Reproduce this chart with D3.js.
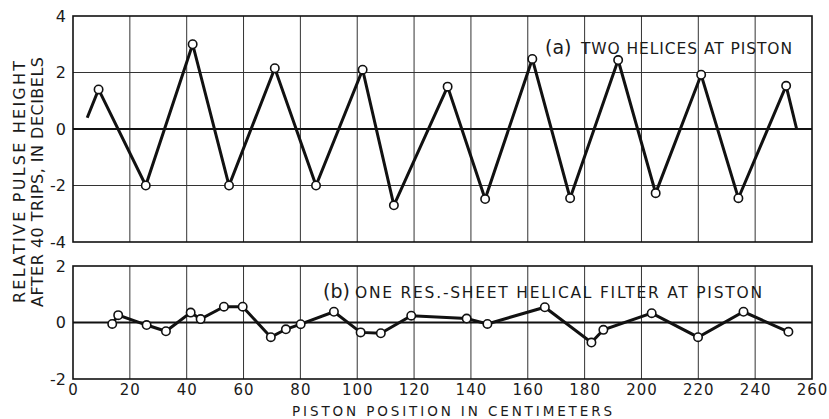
<!DOCTYPE html>
<html>
<head>
<meta charset="utf-8">
<script src="https://cdn.jsdelivr.net/npm/d3@7"></script>
<style>
    body { margin: 0; background: #fff; }
    svg text { font-family: "DejaVu Sans", sans-serif; fill: #1a1a1a; }
</style>
</head>
<body>
<div id="viz"></div>
<script>
// panel (a): two helices at piston
const posA = [5, 9, 25.6, 42.1, 54.9, 71, 85.5, 101.9, 112.9, 131.8, 145, 161.6, 174.9, 191.8, 205, 221, 234.1, 250.9, 254.6];
const dbA = [0.4, 1.4, -2, 3, -2, 2.15, -2, 2.1, -2.7, 1.5, -2.48, 2.48, -2.45, 2.44, -2.27, 1.92, -2.45, 1.53, 0];

// panel (b): one res.-sheet helical filter at piston
const posB = [13.8, 15.9, 25.9, 32.7, 41.4, 44.9, 53.1, 59.7, 69.6, 74.9, 80.1, 91.8, 101.2, 108.3, 119, 138.5, 145.8, 166, 182.4, 186.6, 203.6, 219.9, 235.9, 251.7];
const dbB = [-0.05, 0.26, -0.09, -0.31, 0.35, 0.12, 0.56, 0.56, -0.52, -0.24, -0.06, 0.38, -0.35, -0.38, 0.24, 0.14, -0.05, 0.54, -0.71, -0.26, 0.33, -0.52, 0.38, -0.33];

const xTicks = d3.range(0, 261, 20);
const yTicksA = [-4, -2, 0, 2, 4];
const yTicksB = [-2, 0, 2];

const width = 829;
const height = 419;
const svg = d3.select("#viz")
    .append("svg")
    .attr("width", width)
    .attr("height", height);

const left = 73, right = 812;
const xScale = d3.scaleLinear().domain([0, 260]).range([left, right]);
const yA = d3.scaleLinear().domain([-4, 4]).range([242, 16]);
const yB = d3.scaleLinear().domain([-2, 2]).range([379, 266]);

const drawPanel = (yScale, yTicks, hGrid, xs, ys, endsBare) => {
    const g = svg.append("g");
    const [y0, y1] = yScale.range();

    // vertical grid
    g.selectAll(".vgrid").data(xTicks.slice(1, -1))
        .enter().append("line")
            .attr("x1", d => xScale(d)).attr("x2", d => xScale(d))
            .attr("y1", y1).attr("y2", y0)
            .attr("stroke", "#333").attr("stroke-width", 1);

    // horizontal grid
    g.selectAll(".hgrid").data(hGrid)
        .enter().append("line")
            .attr("x1", left).attr("x2", right)
            .attr("y1", d => yScale(d)).attr("y2", d => yScale(d))
            .attr("stroke", "#333").attr("stroke-width", 1);

    g.append("line")
        .attr("x1", left).attr("x2", right)
        .attr("y1", yScale(0)).attr("y2", yScale(0))
        .attr("stroke", "#111").attr("stroke-width", 2);

    g.append("rect")
        .attr("x", left).attr("y", y1)
        .attr("width", right - left).attr("height", y0 - y1)
        .attr("fill", "none").attr("stroke", "#111").attr("stroke-width", 1.6);

    const yAxis = d3.axisLeft(yScale)
        .tickValues(yTicks)
        .tickSize(0)
        .tickPadding(7)
        .tickFormat(d => d3.format("d")(d).replace("−", "-"));
    const yAxisG = g.append("g").attr("transform", `translate(${left},0)`).call(yAxis);
    yAxisG.select(".domain").remove();
    yAxisG.selectAll("text")
        .style("font-size", "16px")
        .attr("fill", "#1a1a1a");

    const pts = xs.map((x, i) => [x, ys[i]]);
    const line = d3.line().x(d => xScale(d[0])).y(d => yScale(d[1]));
    g.append("path")
        .attr("d", line(pts))
        .attr("fill", "none")
        .attr("stroke", "#111")
        .attr("stroke-width", 3);

    const marked = endsBare ? pts.slice(1, -1) : pts;
    g.selectAll("circle").data(marked)
        .enter().append("circle")
            .attr("cx", d => xScale(d[0]))
            .attr("cy", d => yScale(d[1]))
            .attr("r", 4.2)
            .attr("fill", "#fff")
            .attr("stroke", "#111")
            .attr("stroke-width", 1.6);
    return g;
};

drawPanel(yA, yTicksA, [-2, 2], posA, dbA, true);
drawPanel(yB, yTicksB, [], posB, dbB, false);

// x axis under panel (b)
const xAxis = d3.axisBottom(xScale)
    .tickValues(xTicks)
    .tickSize(0)
    .tickPadding(5);
const xAxisG = svg.append("g").attr("transform", `translate(0,379)`).call(xAxis);
xAxisG.select(".domain").remove();
xAxisG.selectAll("text")
    .style("font-size", "15px")
    .style("letter-spacing", "1px")
    .attr("fill", "#1a1a1a");

svg.append("text")
    .attr("x", 292).attr("y", 415.5)
    .attr("textLength", 320).attr("lengthAdjust", "spacing")
    .style("font-size", "13.5px")
    .text("PISTON POSITION IN CENTIMETERS");

// rotated y title, two lines
const yTitle = svg.append("g").attr("transform", "translate(0,182) rotate(-90)");
yTitle.append("text")
    .attr("x", -121).attr("y", 25)
    .attr("textLength", 242).attr("lengthAdjust", "spacing")
    .style("font-size", "16px")
    .text("RELATIVE PULSE HEIGHT");
yTitle.append("text")
    .attr("x", -125).attr("y", 43)
    .attr("textLength", 250).attr("lengthAdjust", "spacing")
    .style("font-size", "16px")
    .text("AFTER 40 TRIPS, IN DECIBELS");

// panel labels
const labelA = svg.append("text").attr("x", 545).attr("y", 54);
labelA.append("tspan").style("font-size", "19px").text("(a)");
labelA.append("tspan").attr("x", 581)
    .attr("textLength", 211).attr("lengthAdjust", "spacing")
    .style("font-size", "15.5px").text("TWO HELICES AT PISTON");

const labelB = svg.append("text").attr("x", 323).attr("y", 298);
labelB.append("tspan").style("font-size", "19px").text("(b)");
labelB.append("tspan").attr("x", 355)
    .attr("textLength", 407).attr("lengthAdjust", "spacing")
    .style("font-size", "15.5px").text("ONE RES.-SHEET HELICAL FILTER AT PISTON");
</script>
</body>
</html>
